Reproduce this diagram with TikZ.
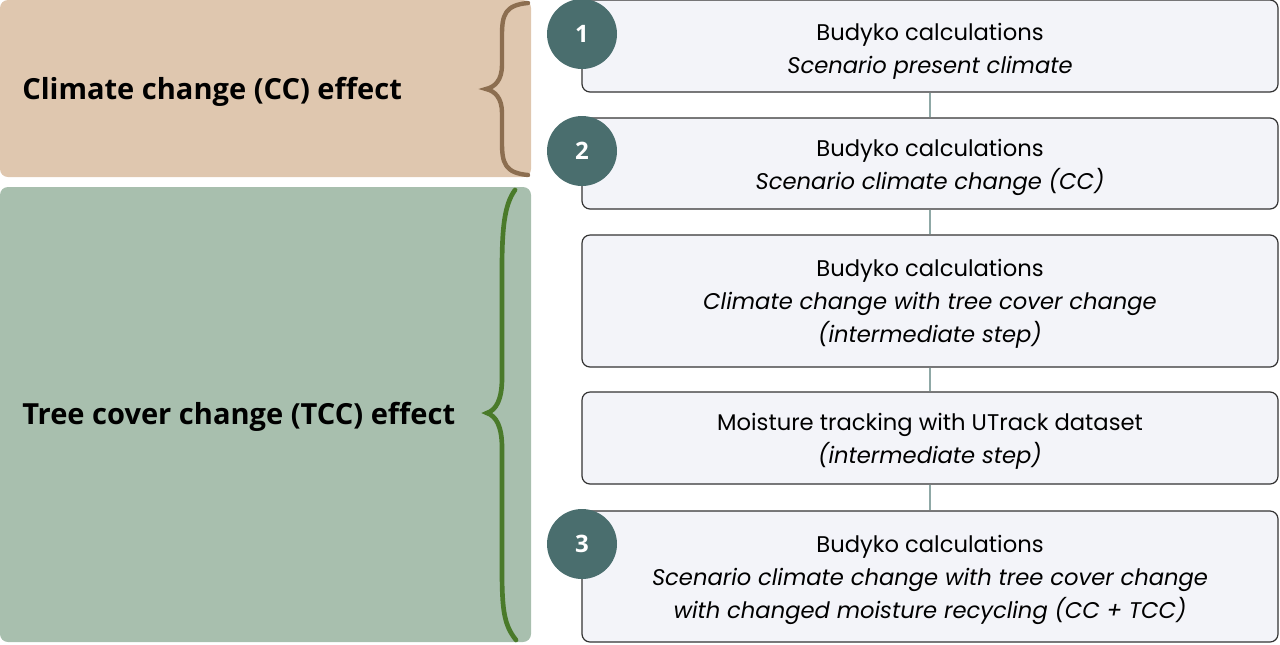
\documentclass[tikz,border=0pt]{standalone}
\usepackage{fontspec}
\setmainfont{Open Sans}
\newfontfamily\boxfont{Poppins}
\begin{document}
\begin{tikzpicture}[x=0.75pt,y=-0.75pt,
  stepbox/.style={draw=black!80, line width=0.9pt, fill=boxfill, rounded corners=6pt,
    minimum width=522pt, align=center, inner sep=0pt,
    font=\boxfont\fontsize{17}{24.75}\selectfont},
  steptext/.style={align=center, inner sep=0pt, font=\boxfont\fontsize{17}{24.75}\selectfont},
  badge/.style={circle, fill=badgecol, minimum size=52.5pt, inner sep=0pt,
    text=white, font=\fontsize{18}{20}\selectfont\bfseries},
  effectbox/.style={rounded corners=6pt, minimum width=398.25pt, inner sep=0pt},
  effecttext/.style={anchor=west, inner sep=0pt, font=\fontsize{21.8}{26}\selectfont\bfseries},
  link/.style={draw=linkcol, line width=2.2pt},
  bracebrown/.style={draw=bracebr, line width=3.3pt, line cap=round},
  bracegreen/.style={draw=bracegr, line width=3.5pt, line cap=round}]
\definecolor{boxfill}{HTML}{F3F4F9}
\definecolor{badgecol}{HTML}{4A6E6E}
\definecolor{tan}{HTML}{DFC7AF}
\definecolor{sage}{HTML}{A8BFAE}
\definecolor{linkcol}{HTML}{8FA8A6}
\definecolor{bracebr}{HTML}{8C6E50}
\definecolor{bracegr}{HTML}{4A7A2A}
\useasboundingbox (0,0) rectangle (1280,644);
% left effect panels
\node[effectbox, fill=tan, minimum height=132.75pt] (cc) at (265.5,88.5) {};
\node[effectbox, fill=sage, minimum height=341.25pt] (tcc) at (265.5,414.5) {};
\node[effecttext] (cct) at (22,92) {Climate change (CC) effect};
\node[effecttext] (tcct) at (22,417) {Tree cover change (TCC) effect};
% braces
\draw[bracebrown] (528,3) .. controls (505,5) and (502,15) .. (502,35) -- (502,65)
  .. controls (502,80) and (495,87) .. (486,89)
  .. controls (495,91) and (502,98) .. (502,113) -- (502,143)
  .. controls (502,163) and (505,173) .. (528,175);
\draw[bracegreen] (515,190) .. controls (504,205) and (502,230) .. (502,270) -- (502,378)
  .. controls (502,400) and (496,410) .. (487,413)
  .. controls (496,416) and (502,426) .. (502,448) -- (502,570)
  .. controls (502,610) and (504,625) .. (516,640);
% step boxes
\node[stepbox, minimum height=69pt] (b1) at (930,46) {};
\node[stepbox, minimum height=68.25pt] (b2) at (930,163.5) {};
\node[stepbox, minimum height=99pt] (b3) at (930,301) {};
\node[stepbox, minimum height=69pt] (b4) at (930,438) {};
\node[stepbox, minimum height=98.25pt] (b5) at (930,576.5) {};
\node[steptext] (t1) at (930,51) {Budyko calculations\\\itshape Scenario present climate};
\node[steptext] (t2) at (930,167) {Budyko calculations\\\itshape Scenario climate change (CC)};
\node[steptext] (t3) at (930,304) {Budyko calculations\\\itshape Climate change with tree cover change\\\itshape (intermediate step)};
\node[steptext] (t4) at (930,441) {Moisture tracking with UTrack dataset\\\itshape (intermediate step)};
\node[steptext] (t5) at (930,580) {Budyko calculations\\\itshape Scenario climate change with tree cover change\\\itshape with changed moisture recycling (CC + TCC)};
% connectors
\draw[link] (b1.south) -- (b2.north);
\draw[link] (b2.south) -- (b3.north);
\draw[link] (b3.south) -- (b4.north);
\draw[link] (b4.south) -- (b5.north);
% badges
\node[badge] (n1) at (582,34) {1};
\node[badge] (n2) at (582,151) {2};
\node[badge] (n3) at (582,544) {3};
\end{tikzpicture}
\end{document}
